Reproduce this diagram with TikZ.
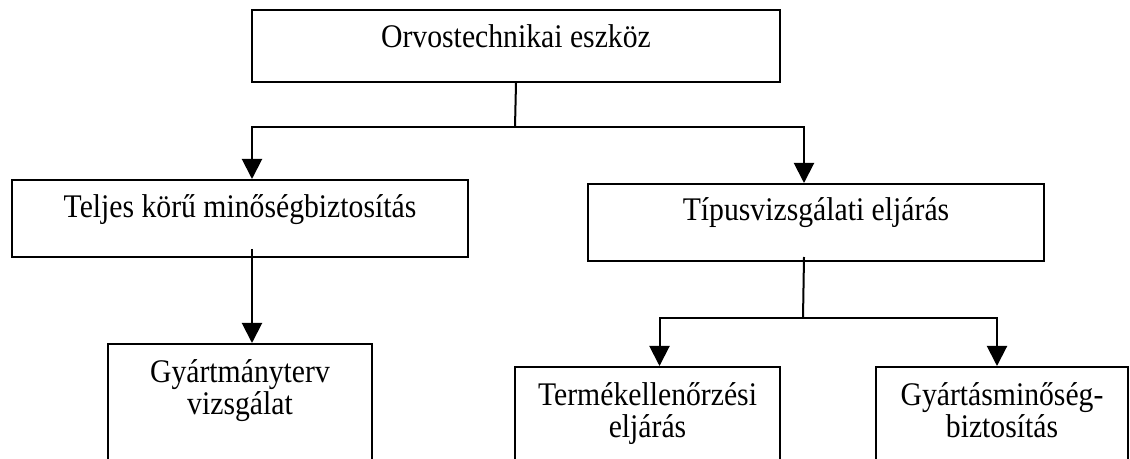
\documentclass[tikz,border=0pt]{standalone}
\usepackage{fontspec}
\setmainfont{Liberation Serif}[FakeStretch=0.9]
\usetikzlibrary{arrows.meta}

\begin{document}
\begin{tikzpicture}[x=0.5pt, y=-0.5pt,
    box/.style = {draw, line width=1pt, rectangle, anchor=north west, inner sep=0pt, align=flush center,
                  font=\fontsize{16.5pt}{16pt}\selectfont},
    arr/.style = {line width=1pt, -{Triangle[length=10pt, width=10pt]}},
    link/.style = {line width=1pt}]
    % Frame
    \useasboundingbox (0,0) rectangle (1130,459);
    \clip (0,0) rectangle (1130,459);

    % Top level
    \node[box, text width=264pt, text height=19pt, text depth=17pt] (orv) at (251,9) {Orvostechnikai eszköz};

    % Second level
    \node[box, text width=228pt, text height=19pt, text depth=19.5pt] (tq) at (11,179) {Teljes körű minőségbiztosítás};
    \node[box, text width=228pt, text height=18.5pt, text depth=20pt] (tip) at (587,183) {Típusvizsgálati eljárás};

    % Third level (cut off at the bottom)
    \node[box, text width=132pt, text height=19.5pt, text depth=50pt] (gy) at (107,343) {Gyártmányterv\\vizsgálat};
    \node[box, text width=132.5pt, text height=19.5pt, text depth=40pt] (te) at (514,366) {Termékellenőrzési\\eljárás};
    \node[box, text width=126pt, text height=19.5pt, text depth=40pt] (gm) at (875,366) {Gyártásminőség-\\biztosítás};

    % Junctions
    \coordinate (j1) at (515,127);
    \coordinate (j2) at (803,318);

    % Connectors
    \draw[link] (orv.south) -- (j1); % stem of the top box
    \draw[arr] (j1) -| ([xshift=6pt]tq.north);
    \draw[arr] (j1) -| ([xshift=-6pt]tip.north);
    \draw[arr] ([xshift=6pt, yshift=4.5pt]tq.south) -- ([xshift=6pt]gy.north);
    \draw[link] ([xshift=-6pt, yshift=2.5pt]tip.south) -- (j2);
    \draw[arr] (j2) -| ([xshift=6pt]te.north);
    \draw[arr] (j2) -| ([xshift=-2.5pt]gm.north);
\end{tikzpicture}
\end{document}
